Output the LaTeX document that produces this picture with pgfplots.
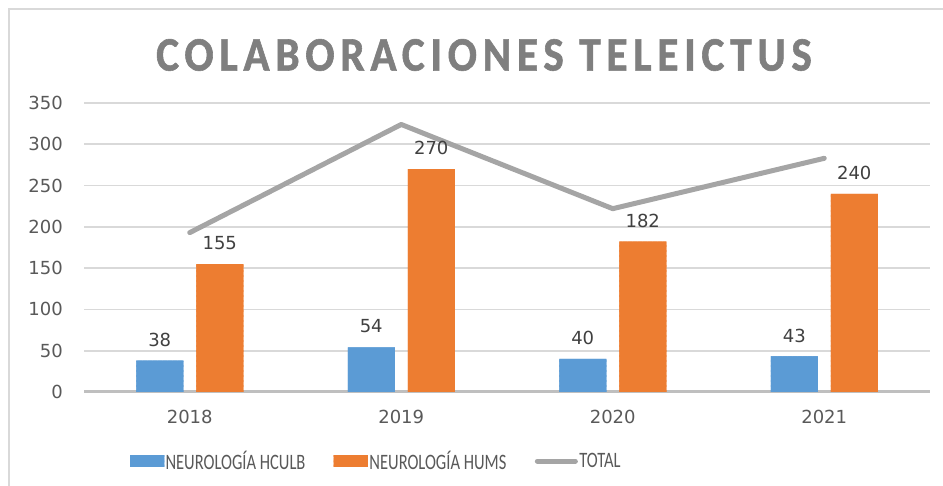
\documentclass[border=0pt]{standalone}
\usepackage{pgfplots}
\pgfplotsset{compat=1.18}
\usepackage{fontspec}
\setmainfont{DejaVu Sans}
\newfontfamily\legfont{Carlito}[FakeStretch=0.75]
\newfontfamily\titlefont{Carlito}[FakeStretch=0.9, LetterSpace=12, FakeBold=1.2]
\usetikzlibrary{patterns.meta}
\definecolor{cblue}{HTML}{5B9BD5}
\definecolor{cbluel}{HTML}{C9DDF1}
\definecolor{corange}{HTML}{ED7D31}
\definecolor{corangel}{HTML}{F9CFAF}
\definecolor{ctotal}{HTML}{A5A5A5}
\definecolor{gridgray}{HTML}{D9D9D9}
\definecolor{basegray}{HTML}{BFBFBF}
\definecolor{tickgray}{HTML}{595959}
\definecolor{labelgray}{HTML}{404040}
\definecolor{titlegray}{HTML}{7F7F7F}
\begin{document}
\begin{tikzpicture}[x=1pt,y=1pt]
\path[use as bounding box] (0,0) rectangle (943,486);
\draw[color=gridgray, line width=2pt] (9,-10) -- (9,477) -- (960,477);
\node[font=\titlefont\bfseries\fontsize{48}{52}\selectfont, text=titlegray] at (484,431) {COLABORACIONES TELEICTUS};
\begin{axis}[
  at={(84pt,94pt)}, anchor=south west,
  width=846pt, height=289pt, scale only axis,
  xmin=-0.5, xmax=3.5, ymin=0, ymax=350,
  xtick={0,1,2,3}, xticklabels={2018,2019,2020,2021},
  ytick={0,50,...,350},
  ymajorgrids, grid style={color=gridgray, line width=1.8pt},
  extra y ticks={0}, extra y tick labels={},
  extra y tick style={grid style={color=basegray, line width=3pt}},
  axis line style={draw=none},
  major tick length=0pt,
  /pgf/number format/assume math mode=true,
  tick label style={font=\fontsize{18}{20}\selectfont, text=tickgray, inner sep=0pt},
  yticklabel style={xshift=-21pt},
  xticklabel style={yshift=-18pt},
  clip=false,
  legend columns=3,
  legend cell align=left,
  legend style={at={(0.0544,-0.2388)}, anchor=west, draw=none, fill=none,
    inner sep=0pt, outer sep=0pt,
    font=\legfont\fontsize{22}{24}\selectfont, text=tickgray,
    nodes={inner sep=1.5pt},
    /tikz/every even column/.append style={column sep=27pt}},
]
\addplot[ybar, bar width=47pt, bar shift=-30pt, draw=none,
  left color=cblue, middle color=cbluel, right color=cblue,
  postaction={pattern={Lines[angle=0,distance=5pt,line width=2pt]}, pattern color=cblue},
  nodes near coords, nodes near coords style={font=\fontsize{18}{20}\selectfont, text=labelgray, inner sep=0pt, anchor=south, yshift=14pt, xshift=-30pt},
  /pgf/number format/assume math mode=true,
  legend image code/.code={\fill[cbluel] (0pt,-5pt) rectangle (34pt,6pt);
     \fill[pattern={Lines[angle=0,distance=3pt,line width=1.5pt]}, pattern color=cblue] (0pt,-5pt) rectangle (34pt,6pt);}]
  coordinates {(0,38) (1,54) (2,40) (3,43)};
\addlegendentry{NEUROLOGÍA HCULB}
\addplot[ybar, bar width=47pt, bar shift=30pt, draw=none,
  left color=corange, middle color=corangel, right color=corange,
  postaction={pattern={Lines[angle=0,distance=5pt,line width=2pt]}, pattern color=corange},
  nodes near coords, nodes near coords style={font=\fontsize{18}{20}\selectfont, text=labelgray, inner sep=0pt, anchor=south, yshift=14pt, xshift=30pt},
  /pgf/number format/assume math mode=true,
  legend image code/.code={\fill[corangel] (0pt,-5pt) rectangle (34pt,6pt);
     \fill[pattern={Lines[angle=0,distance=3pt,line width=1.5pt]}, pattern color=corange] (0pt,-5pt) rectangle (34pt,6pt);}]
  coordinates {(0,155) (1,270) (2,182) (3,240)};
\addlegendentry{NEUROLOGÍA HUMS}
\addplot[sharp plot, color=ctotal, line width=5pt, mark=none, line cap=round, line join=round,
  legend image code/.code={\draw[ctotal, line width=5pt, line cap=round] (0pt,0pt) -- (38pt,0pt);}]
  coordinates {(0,193) (1,324) (2,222) (3,283)};
\addlegendentry{TOTAL}
\end{axis}
\end{tikzpicture}
\end{document}
